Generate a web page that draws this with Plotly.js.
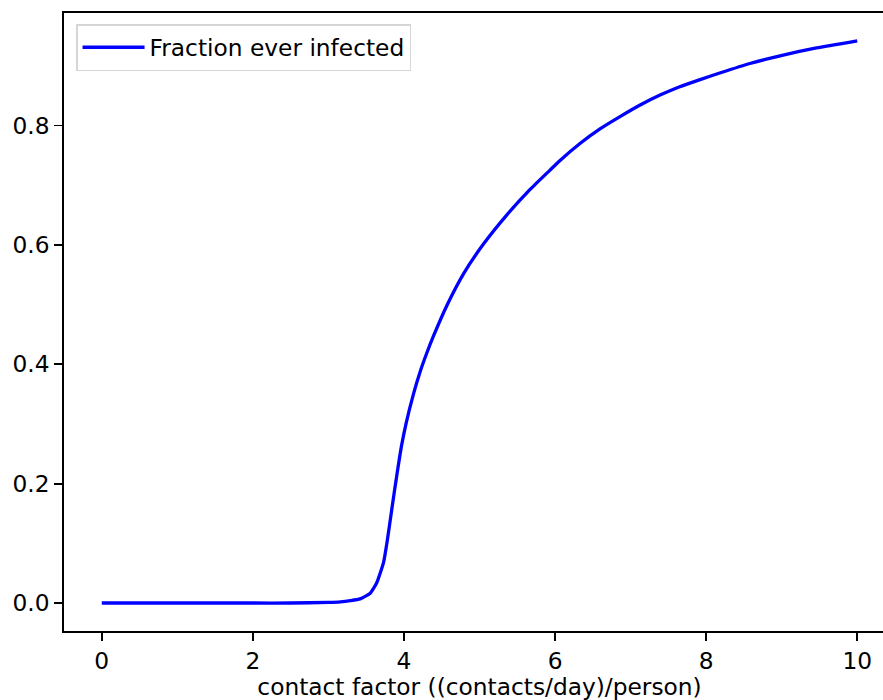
<!DOCTYPE html>
<html>
<head>
<meta charset="utf-8">
<script src="https://cdn.plot.ly/plotly-3.0.1.min.js"></script>
<style>
  html, body { margin: 0; padding: 0; overflow: hidden; background: #fff; }
  #chart { width: 900px; height: 700px; }
</style>
</head>
<body>
<div id="chart"></div>
<script>
// Contact factor ((contacts/day)/person)
const contactFactor = [0, 0.5, 1, 1.5, 2, 2.5, 3, 3.16, 3.29, 3.42, 3.55, 3.64, 3.73, 3.78, 3.84, 3.91, 3.97, 4.03, 4.13, 4.21, 4.30, 4.39, 4.57, 4.79, 5.05, 5.36, 5.67, 5.93, 6.07, 6.33, 6.59, 6.86, 7.12, 7.39, 7.65, 7.92, 8.18, 8.58, 9.02, 9.46, 10];
// Fraction ever infected
const fractionInfected = [0, 0, 0, 0, 0, 0, 0.001, 0.002, 0.004, 0.007, 0.016, 0.034, 0.068, 0.105, 0.158, 0.218, 0.265, 0.302, 0.352, 0.386, 0.418, 0.447, 0.499, 0.552, 0.601, 0.650, 0.693, 0.725, 0.742, 0.770, 0.794, 0.815, 0.834, 0.851, 0.865, 0.877, 0.888, 0.904, 0.918, 0.930, 0.942];
const seriesName = 'Fraction ever infected';
const xTicks = [0, 2, 4, 6, 8, 10];
const yTicks = [0.0, 0.2, 0.4, 0.6, 0.8];
const xTitle = 'contact factor ((contacts/day)/person)';

const font = { family: 'DejaVu Sans, sans-serif', size: 23.3, color: '#000' };

const trace = {
  x: contactFactor,
  y: fractionInfected,
  type: 'scatter',
  mode: 'lines',
  name: seriesName,
  line: { color: '#0000ff', width: 3.3, shape: 'spline', smoothing: 0.5 },
  showlegend: true
};

const layout = {
  width: 900,
  height: 700,
  margin: { l: 64, r: 5, t: 13, b: 69, pad: 0 },
  paper_bgcolor: '#ffffff',
  plot_bgcolor: '#ffffff',
  font: font,
  showlegend: true,
  legend: {
    x: 0.0145, y: 0.982, xanchor: 'left', yanchor: 'top',
    bgcolor: 'rgba(255,255,255,0.8)',
    bordercolor: '#d6d6d6', borderwidth: 1.5,
    itemwidth: 62,
    font: font
  },
  xaxis: {
    range: [-0.5, 10.5],
    tickvals: xTicks,
    ticktext: xTicks.map(String),
    ticks: 'outside', ticklen: 8, tickwidth: 1.8, tickcolor: '#000',
    showline: true, linecolor: '#000', linewidth: 1.8, mirror: true,
    showgrid: false, zeroline: false,
    tickfont: font,
    title: { text: xTitle, font: font, standoff: 6 },
    automargin: false
  },
  yaxis: {
    range: [-0.0469, 0.9886],
    tickvals: yTicks,
    ticktext: yTicks.map(v => v.toFixed(1)),
    ticks: 'outside', ticklen: 8, tickwidth: 1.8, tickcolor: '#000',
    showline: true, linecolor: '#000', linewidth: 1.8, mirror: true,
    showgrid: false, zeroline: false,
    tickfont: font,
    automargin: false
  }
};

Plotly.newPlot('chart', [trace], layout, { displayModeBar: false, staticPlot: true });
</script>
</body>
</html>
